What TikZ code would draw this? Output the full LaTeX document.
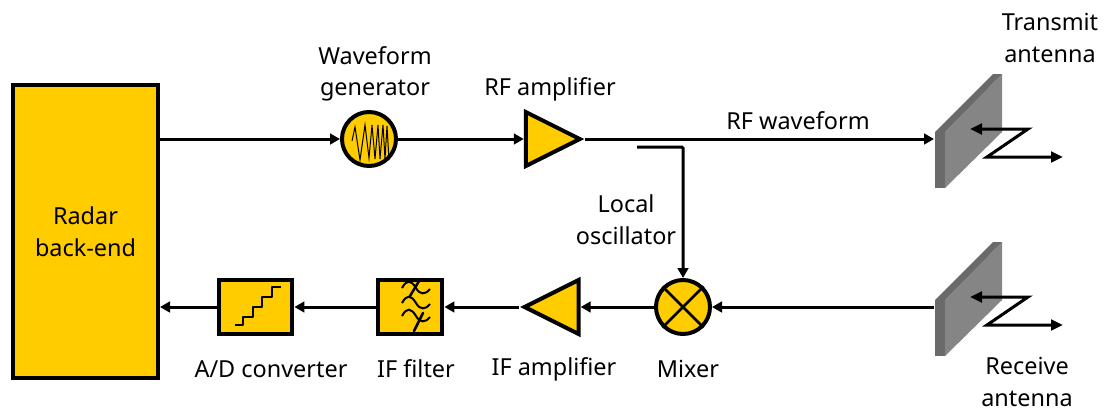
\documentclass[tikz,border=0pt]{standalone}
\usepackage{fontspec}
\setmainfont{Noto Sans}
\usetikzlibrary{arrows.meta,positioning,shapes.geometric}
\definecolor{Gold}{HTML}{FFCC00}
\definecolor{PanelFace}{HTML}{858585}
\definecolor{PanelSide}{HTML}{6A6A6A}
\tikzset{
  stage/.style={draw=black,fill=Gold,line width=.12cm,align=center,font=\fontsize{20}{27}\selectfont},
  amp/.style={stage,isosceles triangle,isosceles triangle stretches,minimum width=1.62cm,minimum height=1.62cm,inner sep=0pt},
  disc/.style={stage,circle,minimum size=1.62cm,inner sep=0pt},
  blockbox/.style={stage,rectangle,minimum height=1.62cm,inner sep=0pt},
  tag/.style={align=center,font=\fontsize{20}{27}\selectfont},
  arrow/.style={-{Triangle[length=3mm,width=3.2mm]},draw=black,line width=.09cm},
  glyph/.style={draw=black,line width=.075cm,line join=round}
}
\begin{document}
\begin{tikzpicture}[x=.03cm,y=-.03cm]
    \useasboundingbox (0,0) rectangle (1112,409);
    \node[stage,rectangle,minimum width=4.35cm,minimum height=8.8cm] (backend) at (85.5,231.5) {Radar\\back-end};
    \node[disc] (wavegen) at (369,139) {};
    \node[amp,anchor=east] (rfamp) at (585,139) {};
    \node[disc] (mixer) at (683,307) {};
    \node[amp,shape border rotate=180,left=2.2cm of mixer] (ifamp) {};
    \node[blockbox,minimum width=1.92cm,left=2.25cm of ifamp] (filter) {};
    \node[blockbox,minimum width=2.2cm,left=2.46cm of filter] (adc) {};

    \foreach \ant/\yy in {tx/0,rx/168}{
      \begin{scope}[shift={(0,\yy)}]
        \fill[PanelFace] (945,132)--(1002,74)--(1002,132)--(945,188)--cycle;
        \fill[PanelSide] (935,132)--(993,74)--(1002,74)--(945,132)--cycle;
        \fill[PanelSide] (935,132)--(945,132)--(945,188)--(935,188)--cycle;
        \coordinate (\ant port) at (934,139);
        \coordinate (\ant in) at (1028,129);
        \coordinate (\ant bend) at (987,157);
        \coordinate (\ant back) at (970,129);
        \coordinate (\ant out) at (1063,157);
        \draw[arrow,line join=miter,{Triangle[length=3.6mm,width=3.2mm]}-{Triangle[length=3.6mm,width=3.2mm]}] (\ant back)--(\ant in)--(\ant bend)--(\ant out);
      \end{scope}
    }

    \coordinate (tap) at (637,147);
    \draw[arrow] (backend.east|-wavegen)--(wavegen);
    \draw[arrow] (wavegen)--(rfamp);
    \draw[arrow] (rfamp.east)--(txport);
    \draw[arrow,rounded corners=1pt] (tap)-|(mixer.north);
    \draw[arrow] (rxport)--(mixer);
    \draw[arrow] (mixer)--(ifamp);
    \draw[arrow] (ifamp)--(filter);
    \draw[arrow] (filter)--(adc);
    \draw[arrow] (adc)--(backend.east|-adc);

    \draw[black,line width=.03cm] (352,141)--(355,127)--(360,160)--(365,125)--(369,158)--(372,125)--(375,159)--(378,125)--(380,159)--(383,125)--(385,159)--(387,126)--(389,160);
    \draw[glyph] (mixer.45)--(mixer.225) (mixer.135)--(mixer.315);
    \draw[glyph,line width=.06cm] (235,325)-|(243,317)-|(253,307)-|(262,297)-|(272,287)--(281,287);
    \foreach \yy in {0,15,28}
      \draw[glyph,line width=.06cm] (402,\yy+288) .. controls (407,\yy+279) and (411,\yy+280) .. (416,\yy+288) .. controls (420,\yy+295) and (425,\yy+295) .. (430,\yy+289);
    \draw[glyph,line cap=round] (419,281)--(410,296) (414,331)--(423,313);

    \node[tag] (wavelabel) at (375,74) {Waveform\\generator};
    \node[tag] (rfamplabel) at (550,89) {RF amplifier};
    \node[tag] (rflabel) at (798,121) {RF waveform};
    \node[tag] (txlabel) at (1050,38) {Transmit\\antenna};
    \node[tag] (lolabel) at (626,220) {Local\\oscillator};
    \node[tag] (adclabel) at (271,369) {A/D converter};
    \node[tag] (filterlabel) at (416,369) {IF filter};
    \node[tag] (ifamplabel) at (554,369) {IF amplifier};
    \node[tag] (mixerlabel) at (688,369) {Mixer};
    \node[tag] (rxlabel) at (1027,382) {Receive\\antenna};
  \end{tikzpicture}
\end{document}
